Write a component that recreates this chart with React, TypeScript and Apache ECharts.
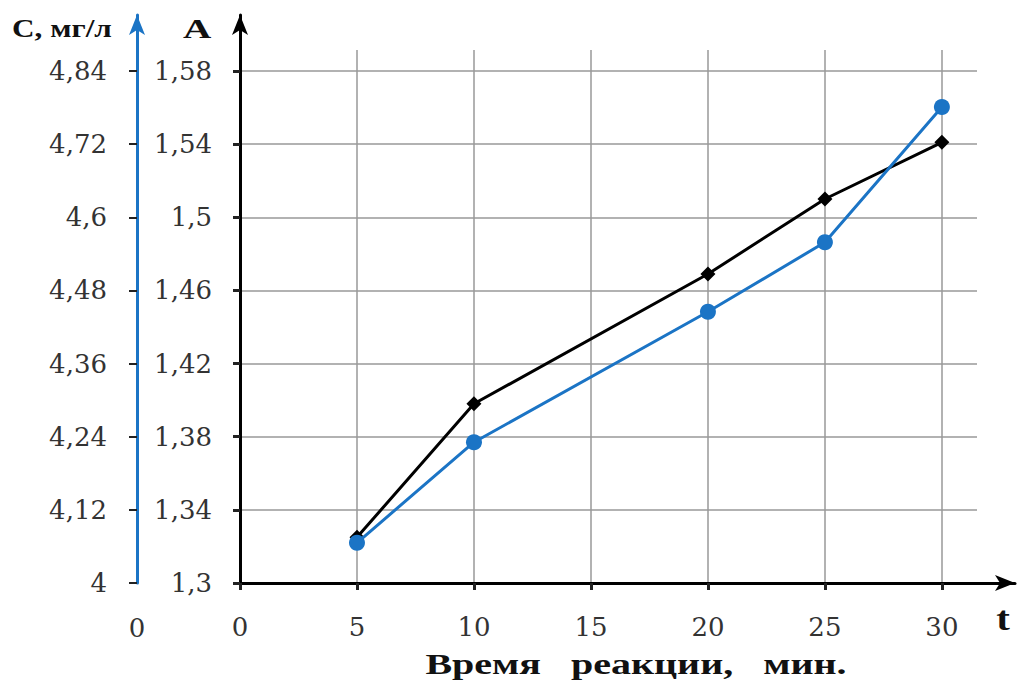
import React, { useEffect, useRef } from "react";
import * as echarts from "echarts";

// Data (time in minutes, absorbance A, concentration C)
const tValues = [5, 10, 20, 25, 30];
const absorbance = [1.325, 1.398, 1.469, 1.51, 1.541];
const concentration = [4.066, 4.231, 4.445, 4.559, 4.781];

// Tick labels
const xTicks = [0, 5, 10, 15, 20, 25, 30];
const aTicks = [1.3, 1.34, 1.38, 1.42, 1.46, 1.5, 1.54, 1.58];
const cTicks = [4, 4.12, 4.24, 4.36, 4.48, 4.6, 4.72, 4.84];

const FONT = "'Liberation Serif', 'Times New Roman', serif";
const LABEL_FONT = "'DejaVu Serif', serif";
const BLUE = "#1b74c5";
const fmt = (v: number) => String(v).replace(".", ",");

export default function App() {
  const ref = useRef<HTMLDivElement>(null);
  useEffect(() => {
    if (!ref.current) return;
    const chart = echarts.init(ref.current, null, { renderer: "svg" });
    const labelStyle = { fontFamily: LABEL_FONT, fontSize: 26, color: "#333" };
    chart.setOption({
      animation: false,
      backgroundColor: "#fff",
      grid: [
        { left: 240, right: 47, top: 50, bottom: 103 },
        { left: 240, right: 9, top: 15, bottom: 103 },
      ],
      xAxis: [
        {
          gridIndex: 0,
          type: "value",
          min: 0,
          max: 31.5,
          axisLine: { show: false },
          axisTick: { show: true, customValues: xTicks, length: 7, lineStyle: { color: "#222", width: 3 } },
          axisLabel: { customValues: xTicks, margin: 31, formatter: fmt, ...labelStyle },
          splitLine: { show: true, lineStyle: { color: "#999", width: 1.5 } },
        },
        {
          gridIndex: 1,
          type: "value",
          min: 0,
          max: 1,
          axisLine: { show: true, symbol: ["none", "arrow"], symbolSize: [12, 20], lineStyle: { color: "#000", width: 3 } },
          axisTick: { show: false },
          axisLabel: { show: false },
          splitLine: { show: false },
        },
      ],
      yAxis: [
        {
          gridIndex: 0,
          type: "value",
          min: 1.3,
          max: 1.5915,
          position: "left",
          axisLine: { show: false },
          axisTick: { show: true, customValues: aTicks, length: 7, lineStyle: { color: "#222", width: 3 } },
          axisLabel: { customValues: aTicks, margin: 28, formatter: fmt, ...labelStyle },
          splitLine: { show: true, lineStyle: { color: "#999", width: 1.5 } },
        },
        {
          gridIndex: 0,
          type: "value",
          min: 4,
          max: 4.8745,
          position: "left",
          offset: 103,
          axisLine: { show: false },
          axisTick: { show: true, customValues: cTicks, length: 8, lineStyle: { color: "#222", width: 2 } },
          axisLabel: { customValues: cTicks, margin: 30, formatter: fmt, ...labelStyle },
          splitLine: { show: false },
        },
        {
          gridIndex: 1,
          type: "value",
          min: 0,
          max: 1,
          position: "left",
          axisLine: { show: true, symbol: ["none", "arrow"], symbolSize: [12, 20], lineStyle: { color: "#000", width: 3 } },
          axisTick: { show: false },
          axisLabel: { show: false },
          splitLine: { show: false },
        },
        {
          gridIndex: 1,
          type: "value",
          min: 0,
          max: 1,
          position: "left",
          offset: 103,
          axisLine: { show: true, symbol: ["none", "arrow"], symbolSize: [12, 20], lineStyle: { color: BLUE, width: 3 } },
          axisTick: { show: false },
          axisLabel: { show: false },
          splitLine: { show: false },
        },
      ],
      series: [
        {
          name: "A",
          type: "line",
          xAxisIndex: 0,
          yAxisIndex: 0,
          data: tValues.map((t, i) => [t, absorbance[i]]),
          symbol: "diamond",
          symbolSize: 15,
          itemStyle: { color: "#000" },
          lineStyle: { color: "#000", width: 3 },
          z: 3,
        },
        {
          name: "C",
          type: "line",
          xAxisIndex: 0,
          yAxisIndex: 1,
          data: tValues.map((t, i) => [t, concentration[i]]),
          symbol: "circle",
          symbolSize: 16,
          itemStyle: { color: BLUE },
          lineStyle: { color: BLUE, width: 3 },
          z: 4,
        },
      ],
      graphic: [
        {
          type: "text",
          x: 12,
          y: 29,
          scaleX: 1.25,
          style: { text: "C, мг/л", font: `bold 25px ${FONT}`, fill: "#111", verticalAlign: "middle" },
        },
        {
          type: "text",
          x: 183,
          y: 29,
          scaleX: 1.4,
          style: { text: "A", font: `bold 28px ${FONT}`, fill: "#111", verticalAlign: "middle" },
        },
        {
          type: "text",
          x: 137,
          y: 628,
          style: { text: "0", font: `26px ${LABEL_FONT}`, fill: "#333", align: "center", verticalAlign: "middle" },
        },
        {
          type: "text",
          x: 1003,
          y: 619,
          scaleX: 1.2,
          style: { text: "t", font: `bold 34px ${FONT}`, fill: "#111", align: "center", verticalAlign: "middle" },
        },
        {
          type: "text",
          x: 636,
          y: 664,
          scaleX: 1.38,
          style: {
            text: "Время\u00a0\u00a0\u00a0реакции,\u00a0\u00a0\u00a0мин.",
            font: `bold 29px ${FONT}`,
            fill: "#111",
            align: "center",
            verticalAlign: "middle",
          },
        },
      ],
    });
    return () => chart.dispose();
  }, []);
  return (
    <div
      ref={ref}
      style={{ position: "fixed", left: 0, top: 0, width: 1024, height: 686, background: "#fff" }}
    />
  );
}
